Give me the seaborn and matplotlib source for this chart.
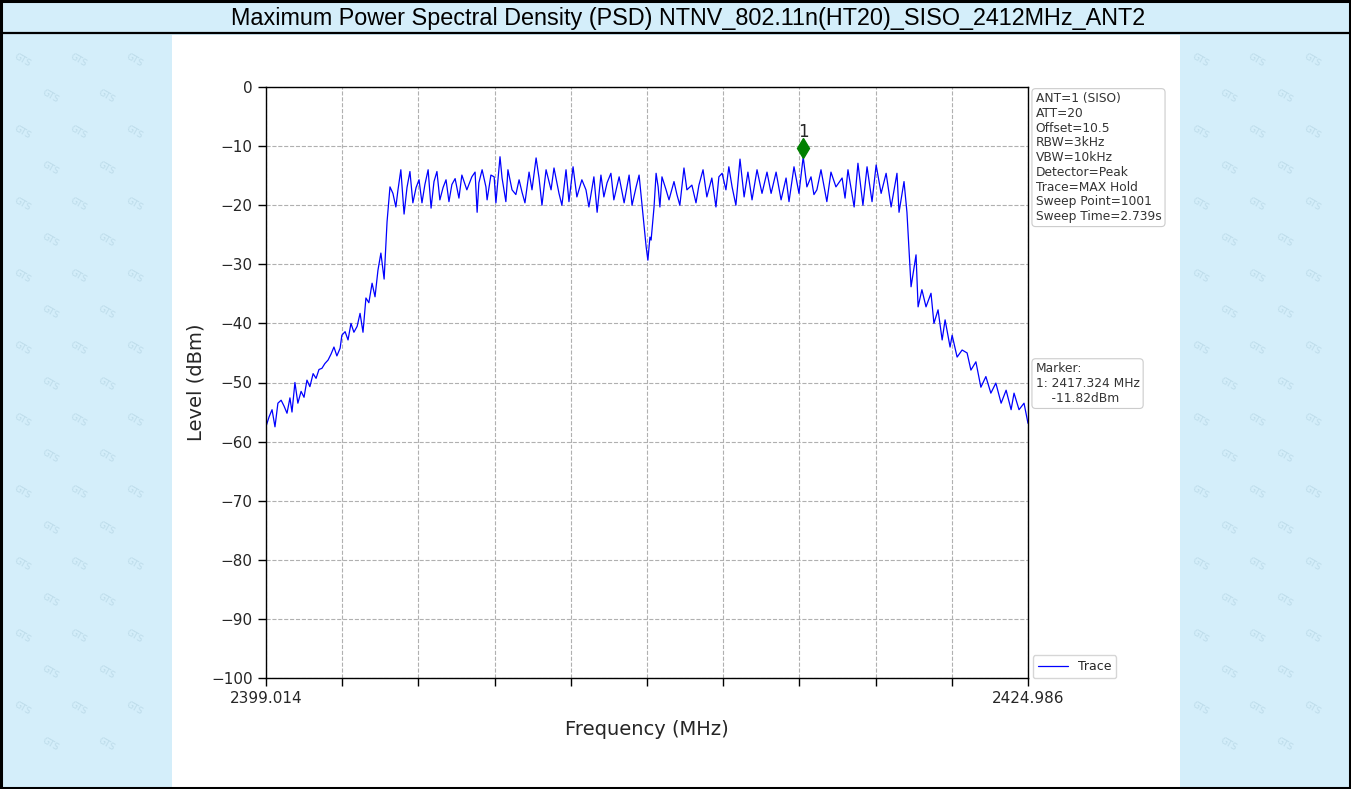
import numpy as np
import pandas as pd
import seaborn as sns
import matplotlib
matplotlib.use("Agg")
import matplotlib.pyplot as plt
from matplotlib.patches import Rectangle
from matplotlib.lines import Line2D

# ---------------- data ----------------
TITLE = "Maximum Power Spectral Density (PSD) NTNV_802.11n(HT20)_SISO_2412MHz_ANT2"
F_START = 2399.014
F_STOP = 2424.986
X_TICK_LABELS = ["2399.014", "2424.986"]
Y_TICKS = [0, -10, -20, -30, -40, -50, -60, -70, -80, -90, -100]

freq_mhz = [
    2399.01, 2399.12, 2399.22, 2399.32, 2399.42, 2399.53, 2399.63, 2399.73, 2399.83, 2399.90,
    2400.00, 2400.10, 2400.21, 2400.31, 2400.41, 2400.51, 2400.62, 2400.72, 2400.82, 2400.92,
    2401.02, 2401.13, 2401.23, 2401.33, 2401.43, 2401.54, 2401.60, 2401.71, 2401.81, 2401.91,
    2402.01, 2402.12, 2402.22, 2402.32, 2402.42, 2402.52, 2402.63, 2402.73, 2402.83, 2402.93,
    2403.04, 2403.14, 2403.24, 2403.34, 2403.44, 2403.51, 2403.61, 2403.72, 2403.82, 2403.92,
    2404.02, 2404.13, 2404.23, 2404.33, 2404.43, 2404.54, 2404.64, 2404.74, 2404.84, 2404.94,
    2405.05, 2405.15, 2405.25, 2405.35, 2405.46, 2405.59, 2405.69, 2405.86, 2406.03, 2406.14,
    2406.21, 2406.27, 2406.38, 2406.51, 2406.55, 2406.68, 2406.79, 2406.85, 2406.99, 2407.06,
    2407.19, 2407.26, 2407.40, 2407.53, 2407.64, 2407.74, 2407.84, 2407.98, 2408.08, 2408.22,
    2408.32, 2408.42, 2408.56, 2408.73, 2408.83, 2409.00, 2409.10, 2409.24, 2409.34, 2409.48,
    2409.61, 2409.78, 2409.92, 2410.02, 2410.19, 2410.30, 2410.43, 2410.53, 2410.64, 2410.77,
    2410.87, 2411.05, 2411.22, 2411.39, 2411.49, 2411.63, 2411.73, 2411.83, 2411.97, 2412.03,
    2412.10, 2412.14, 2412.24, 2412.31, 2412.38, 2412.44, 2412.51, 2412.65, 2412.75, 2412.92,
    2413.02, 2413.12, 2413.26, 2413.36, 2413.53, 2413.67, 2413.77, 2413.91, 2414.04, 2414.21,
    2414.35, 2414.45, 2414.56, 2414.69, 2414.79, 2414.90, 2415.03, 2415.17, 2415.31, 2415.44,
    2415.58, 2415.75, 2415.92, 2416.09, 2416.23, 2416.40, 2416.57, 2416.74, 2416.84, 2417.01,
    2417.18, 2417.324, 2417.45, 2417.59, 2417.69, 2417.79, 2417.93, 2418.13, 2418.27, 2418.44,
    2418.65, 2418.75, 2418.85, 2419.06, 2419.19, 2419.36, 2419.50, 2419.67, 2419.81, 2419.98,
    2420.15, 2420.32, 2420.52, 2420.59, 2420.76, 2420.86, 2421.00, 2421.17, 2421.24, 2421.37,
    2421.51, 2421.68, 2421.78, 2421.92, 2422.06, 2422.16, 2422.33, 2422.40, 2422.57, 2422.74,
    2422.91, 2423.04, 2423.21, 2423.38, 2423.55, 2423.72, 2423.89, 2424.07, 2424.24, 2424.41,
    2424.51, 2424.68, 2424.85, 2424.986,
]

level_dbm = [
    -57.5, -55.8, -54.6, -57.5, -53.5, -53.0, -54.0, -55.2, -52.6, -55.0,
    -50.0, -53.5, -51.5, -52.5, -49.6, -50.7, -48.5, -49.3, -47.8, -47.6,
    -46.8, -46.2, -45.2, -44.0, -45.5, -44.2, -42.0, -41.4, -42.8, -40.0,
    -41.5, -40.5, -38.3, -41.5, -35.7, -36.5, -33.2, -35.5, -31.0, -28.1,
    -32.5, -22.8, -16.9, -18.0, -20.3, -17.5, -14.0, -21.5, -17.0, -14.3,
    -19.6, -17.0, -15.7, -19.6, -16.5, -14.0, -20.5, -16.0, -14.3, -19.1,
    -17.0, -15.7, -19.4, -16.5, -15.5, -18.8, -14.9, -17.4, -15.2, -14.4,
    -21.2, -16.2, -14.0, -16.9, -19.1, -14.9, -15.2, -19.6, -11.8, -15.4,
    -19.4, -14.0, -17.4, -18.2, -15.7, -17.8, -19.6, -14.4, -17.4, -12.0,
    -15.4, -20.0, -14.0, -17.4, -13.7, -18.0, -20.0, -14.0, -19.4, -13.5,
    -18.6, -15.7, -17.4, -20.3, -15.2, -21.2, -14.9, -18.6, -16.2, -14.6,
    -19.1, -15.2, -19.6, -14.9, -20.0, -16.9, -14.9, -20.0, -27.0, -29.3,
    -25.4, -25.9, -20.3, -14.6, -16.9, -20.3, -15.2, -17.4, -19.1, -16.0,
    -18.2, -20.0, -13.7, -17.4, -16.6, -19.6, -16.6, -14.0, -18.6, -15.4,
    -20.3, -15.2, -14.6, -17.4, -13.5, -16.9, -20.0, -12.2, -18.6, -14.4,
    -19.1, -14.0, -18.0, -14.4, -18.0, -14.4, -19.1, -15.4, -19.4, -13.5,
    -18.0, -11.82, -16.9, -15.2, -18.2, -17.4, -14.0, -19.4, -14.4, -16.9,
    -15.4, -18.8, -14.0, -20.3, -12.9, -20.0, -13.5, -19.4, -13.2, -18.0,
    -14.6, -20.3, -14.6, -21.2, -16.0, -21.2, -33.8, -28.4, -37.2, -34.3,
    -37.2, -34.9, -40.0, -37.7, -42.8, -39.4, -44.0, -42.0, -45.7, -44.5,
    -45.0, -47.9, -46.5, -50.8, -49.0, -51.8, -50.1, -53.5, -51.3, -54.6,
    -51.8, -54.6, -53.5, -56.9,
]

MARKER_FREQ = 2417.324
MARKER_LEVEL = -11.82

INFO_LINES = [
    "ANT=1 (SISO)", "ATT=20", "Offset=10.5", "RBW=3kHz", "VBW=10kHz",
    "Detector=Peak", "Trace=MAX Hold", "Sweep Point=1001", "Sweep Time=2.739s",
]
MARKER_LINES = ["Marker:", "1: 2417.324 MHz", "    -11.82dBm"]

# ---------------- figure ----------------
sns.set_style("ticks")
plt.rcParams["font.family"] = ["DejaVu Sans"]

W, H = 1351, 789
fig = plt.figure(figsize=(W / 100, H / 100), dpi=100)
BG = "#d4eefa"
fig.patch.set_facecolor(BG)

# faint watermark, kept well inside the blue side panels
for row, yy in enumerate(np.arange(60, 770, 36)):
    off = 28 if row % 2 else 0
    for base in (22, 1200):
        for xx in np.arange(base + off, base + 130, 56):
            fig.text(xx / W, 1 - yy / H, "GTS", fontsize=6.5, color="#bcdbe9",
                     rotation=-30, ha="center", va="center", zorder=0.5)

# white central panel
fig.add_artist(Rectangle((172 / W, 0), (1180 - 172) / W, (H - 35) / H,
                         transform=fig.transFigure, fc="white", ec="none", zorder=1))
# title bar separator and outer border
fig.add_artist(Line2D([0, 1], [1 - 33 / H, 1 - 33 / H], transform=fig.transFigure,
                      color="black", lw=1.6, zorder=3))
fig.add_artist(Rectangle((0.001, 0.001), 0.998, 0.998, transform=fig.transFigure,
                         fill=False, ec="black", lw=2.2, zorder=3))
fig.text(688 / W, 1 - 18 / H, TITLE, ha="center", va="center", fontsize=16.8,
         family=["Liberation Sans", "DejaVu Sans"], color="black", zorder=4)

ax = fig.add_axes([266 / W, 1 - 678 / H, (1028 - 266) / W, (678 - 87) / H], zorder=5)
ax.set_facecolor("white")

df = pd.DataFrame({"Frequency": freq_mhz, "Level": level_dbm})
sns.lineplot(data=df, x="Frequency", y="Level", ax=ax, color="#0000ff", lw=0.9,
             sort=False, estimator=None, label="Trace")

# marker
ax.plot([MARKER_FREQ], [MARKER_LEVEL + 1.5], marker="d", color="#008000",
        markersize=10, linestyle="none", zorder=6)
ax.text(MARKER_FREQ, MARKER_LEVEL + 2.6, "1", ha="center", va="bottom", fontsize=12)

ax.set_xlim(F_START, F_STOP)
ax.set_ylim(-100, 0)
xt = np.linspace(F_START, F_STOP, 11)
ax.set_xticks(xt)
ax.set_xticklabels([X_TICK_LABELS[0]] + [""] * 9 + [X_TICK_LABELS[1]])
ax.set_yticks(Y_TICKS)
ax.tick_params(axis="both", labelsize=11, length=6, width=1, direction="out", color="black")
ax.grid(True, linestyle="--", color="#b0b0b0", lw=0.8)
for s in ax.spines.values():
    s.set_visible(True)
    s.set_color("black")
    s.set_linewidth(1.0)
ax.set_xlabel("Frequency (MHz)", fontsize=14, labelpad=10)
ax.set_ylabel("Level (dBm)", fontsize=14, labelpad=4)

leg = ax.legend(loc="lower left", bbox_to_anchor=(1.006, 0.0), fontsize=9,
                frameon=True, handlelength=2.4, borderaxespad=0.0)
leg.get_frame().set_edgecolor("#cccccc")

bbox = dict(boxstyle="round,pad=0.3", fc="white", ec="#cccccc", lw=0.8)
ax.text(1.01, 0.991, "\n".join(INFO_LINES), transform=ax.transAxes, ha="left", va="top",
        fontsize=8.8, linespacing=1.17, color="#333333", bbox=bbox)
ax.text(1.01, 0.534, "\n".join(MARKER_LINES), transform=ax.transAxes, ha="left", va="top",
        fontsize=8.8, linespacing=1.17, color="#333333", bbox=bbox)

fig.savefig("out.png", dpi=100, facecolor=fig.get_facecolor())
